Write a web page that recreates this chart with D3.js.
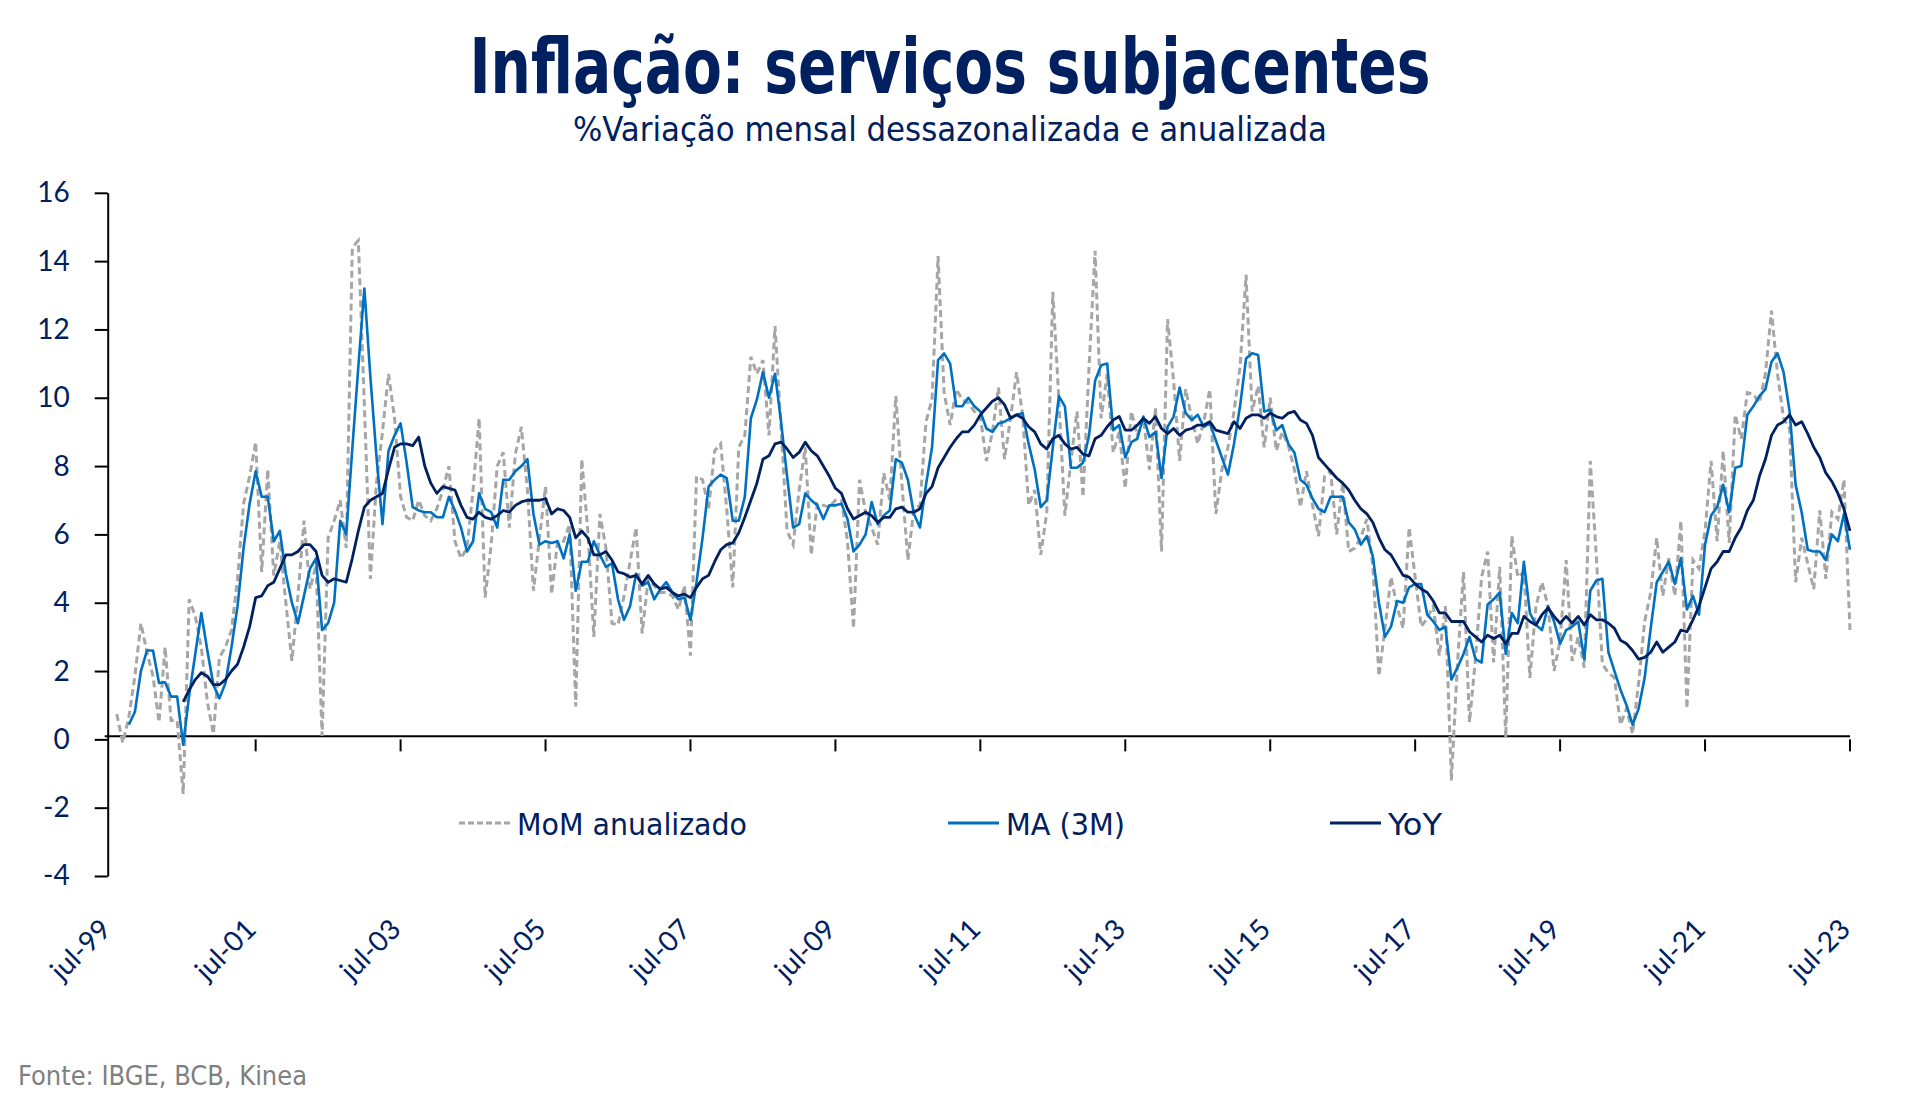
<!DOCTYPE html>
<html>
<head>
<meta charset="utf-8">
<script src="https://cdn.jsdelivr.net/npm/d3@7"></script>
<style>
  body { margin: 0; background: #fff; }
  svg { display: block; }
</style>
</head>
<body>
<svg id="chart" width="1913" height="1111"></svg>
<script>
// months on the axis: jul-99 .. jul-23 (289 categories)
var firstMonth = new Date(1999, 6, 1)
var lastMonth = new Date(2023, 6, 1)
var tickLabels = ["jul-99","jul-01","jul-03","jul-05","jul-07","jul-09","jul-11","jul-13","jul-15","jul-17","jul-19","jul-21","jul-23"]
var yTicks = [-4, -2, 0, 2, 4, 6, 8, 10, 12, 14, 16]

// MoM anualizado, starts ago-99
var momStart = new Date(1999, 7, 1)
var mom = [0.74,-0.1,0.65,1.85,3.4,2.55,1.85,0.5,2.7,0.55,0.55,-1.6,
  4.1,3.6,2.7,1.1,0.16,2.4,2.7,3.2,4.7,6.9,7.7,8.7,
  4.9,7.9,4.8,5.8,4.0,2.3,4.2,6.4,4.4,5.1,0.1,5.9,
  6.4,7.0,5.6,14.4,14.6,9.8,4.7,7.5,9.0,10.7,9.4,7.1,
  6.5,6.4,7.0,6.55,6.4,6.75,7.3,8.0,5.8,5.3,5.6,7.3,
  9.4,4.15,5.7,8.0,8.4,6.2,8.35,9.15,7.3,4.35,5.9,7.4,
  4.25,5.8,5.8,6.3,0.96,8.2,6.1,3.0,6.6,5.6,3.4,3.35,
  4.2,5.2,6.2,3.1,4.7,4.5,4.3,4.3,4.2,3.8,4.5,2.45,
  7.7,7.6,6.75,8.45,8.65,6.75,4.45,8.55,8.9,11.2,10.7,11.1,
  8.9,12.1,9.1,6.1,5.7,7.3,8.55,5.4,6.9,6.85,6.8,7.0,
  7.0,5.8,3.25,7.6,6.65,6.2,5.7,7.8,7.0,10.05,7.5,5.25,
  6.75,6.85,9.3,9.95,14.15,10.15,9.2,10.25,9.95,9.85,9.6,9.45,
  8.15,9.0,10.3,8.2,9.4,10.75,9.5,6.85,7.3,5.4,6.65,13.1,
  9.95,6.55,8.15,9.6,7.1,10.9,14.3,9.4,10.7,8.4,9.0,7.35,
  9.6,8.9,9.4,7.9,9.7,5.5,12.3,10.5,8.15,10.25,9.4,8.65,
  9.3,10.25,6.6,7.9,8.55,9.6,10.9,13.6,9.6,10.35,8.55,10.0,
  8.45,9.0,8.6,7.9,6.8,7.85,6.85,5.95,7.7,7.85,6.0,7.5,
  5.5,5.6,5.9,6.45,5.05,1.85,3.25,4.75,3.9,3.25,6.2,4.75,
  3.3,3.55,3.9,2.45,3.9,-1.2,2.2,4.9,0.5,2.4,4.75,5.5,
  2.25,5.05,0.05,5.95,4.75,4.9,1.8,3.9,4.6,3.9,2.0,2.9,
  5.25,2.3,3.0,2.1,8.15,5.35,2.2,1.95,1.8,0.43,0.9,0.16,
  1.65,3.45,4.3,5.9,4.2,5.3,4.2,6.4,0.9,5.25,5.0,6.1,
  8.15,5.8,8.45,5.75,9.5,8.8,10.15,10.1,9.85,10.7,12.55,10.7,
  9.4,9.1,4.6,5.9,5.15,4.4,6.7,4.7,6.65,6.45,7.6,3.2]

// MA (3M), starts out-99
var maStart = new Date(1999, 9, 1)
var ma3 = [0.43,0.8,2.0,2.6,2.6,1.65,1.67,1.25,1.25,-0.16,
  1.3,2.5,3.7,2.6,1.6,1.2,1.65,2.7,3.9,5.6,6.9,7.85,
  7.1,7.1,5.8,6.1,4.85,4.0,3.4,4.2,5.0,5.3,3.2,3.4,
  4.0,6.4,6.0,8.5,10.9,13.2,10.6,8.3,6.3,8.45,8.9,9.25,
  8.1,6.8,6.7,6.65,6.65,6.5,6.5,7.1,6.7,6.2,5.5,5.8,
  7.2,6.75,6.65,6.2,7.6,7.6,7.85,8.0,8.2,6.6,5.7,5.8,
  5.75,5.8,5.3,6.0,4.35,5.2,5.2,5.8,5.4,5.05,5.15,4.1,
  3.5,3.9,4.85,4.5,4.6,4.1,4.4,4.6,4.3,4.1,4.15,3.5,
  4.6,5.9,7.4,7.6,7.75,7.65,6.4,6.4,7.1,9.4,9.95,10.75,
  10.0,10.7,9.3,7.7,6.2,6.3,7.2,7.0,6.85,6.45,6.85,6.85,
  6.9,6.45,5.5,5.7,6.0,6.95,6.3,6.55,6.7,8.2,8.1,7.6,
  6.6,6.2,7.45,8.55,11.1,11.3,11.0,9.75,9.75,10.0,9.75,9.6,
  9.1,9.0,9.25,9.3,9.4,9.5,9.55,8.65,7.9,6.8,7.0,8.55,
  10.05,9.75,7.95,7.95,8.1,8.9,10.5,10.95,11.0,9.05,9.2,8.25,
  8.7,8.8,9.45,8.85,9.0,7.65,9.15,9.45,10.3,9.55,9.35,9.5,
  9.15,9.25,8.75,8.25,7.75,8.65,9.75,11.15,11.3,11.25,9.6,9.65,
  9.05,9.2,8.65,8.4,7.6,7.45,7.05,6.75,6.65,7.1,7.1,7.1,
  6.35,6.15,5.7,5.95,5.35,4.0,3.0,3.3,4.05,4.0,4.45,4.55,
  4.55,3.65,3.45,3.2,3.3,1.75,2.1,2.5,3.0,2.35,2.25,3.95,
  4.1,4.3,2.5,3.7,3.4,5.2,3.7,3.35,3.2,3.9,3.45,2.8,
  3.2,3.3,3.45,2.35,4.35,4.65,4.7,2.55,2.0,1.45,1.0,0.43,
  0.9,1.8,3.25,4.6,4.9,5.2,4.55,5.3,3.8,4.2,3.65,5.7,
  6.55,6.8,7.45,6.65,7.95,8.0,9.5,9.75,10.05,10.25,11.05,11.3,
  10.75,9.6,7.45,6.65,5.55,5.5,5.5,5.25,6.0,5.8,6.6,5.55]

// YoY, starts jul-00
var yoyStart = new Date(2000, 6, 1)
var yoy = [1.1,1.45,1.75,1.95,1.85,1.6,1.6,1.75,2.0,2.2,2.7,3.3,
  4.15,4.2,4.5,4.6,5.0,5.4,5.4,5.5,5.7,5.7,5.5,4.8,
  4.6,4.7,4.65,4.6,5.3,6.1,6.8,7.0,7.1,7.2,7.9,8.55,
  8.65,8.65,8.6,8.85,8.0,7.5,7.2,7.4,7.35,7.3,6.85,6.5,
  6.45,6.65,6.5,6.45,6.55,6.7,6.65,6.85,6.95,7.0,7.0,7.0,
  7.05,6.6,6.75,6.7,6.5,5.9,6.1,5.9,5.4,5.4,5.5,5.25,
  4.9,4.85,4.75,4.8,4.55,4.8,4.55,4.4,4.45,4.3,4.2,4.25,
  4.15,4.45,4.7,4.8,5.2,5.55,5.7,5.75,6.05,6.5,7.0,7.5,
  8.2,8.3,8.65,8.7,8.5,8.25,8.4,8.7,8.45,8.3,8.0,7.7,
  7.35,7.2,6.75,6.45,6.55,6.65,6.55,6.35,6.5,6.5,6.75,6.8,
  6.65,6.65,6.75,7.2,7.4,7.95,8.25,8.55,8.8,9.0,9.0,9.2,
  9.5,9.7,9.9,10.0,9.8,9.4,9.5,9.4,9.15,9.0,8.65,8.5,
  8.8,8.9,8.65,8.5,8.55,8.35,8.3,8.8,8.9,9.15,9.35,9.45,
  9.05,9.05,9.2,9.4,9.25,9.45,9.1,8.95,9.1,8.9,9.05,9.1,
  9.2,9.2,9.3,9.05,9.0,8.95,9.3,9.1,9.4,9.5,9.5,9.4,
  9.55,9.45,9.4,9.55,9.6,9.35,9.25,8.9,8.25,8.05,7.85,7.65,
  7.5,7.3,7.0,6.75,6.6,6.35,5.9,5.55,5.4,5.1,4.8,4.75,
  4.55,4.4,4.3,4.05,3.7,3.7,3.45,3.45,3.45,3.15,3.0,2.85,
  3.05,2.95,3.05,2.8,3.1,3.1,3.6,3.45,3.35,3.65,3.85,3.6,
  3.4,3.6,3.4,3.6,3.35,3.65,3.5,3.5,3.4,3.25,2.9,2.8,
  2.6,2.35,2.4,2.55,2.85,2.55,2.7,2.85,3.2,3.15,3.5,3.9,
  4.45,5.0,5.2,5.5,5.5,5.9,6.2,6.7,7.0,7.7,8.2,8.9,
  9.2,9.3,9.5,9.2,9.3,8.95,8.55,8.25,7.8,7.55,7.2,6.75,
  6.1]

var navy = "#002060"
var blue = "#0070c0"
var grey = "#a6a6a6"

var months = d3.timeMonth.range(firstMonth, d3.timeMonth.offset(lastMonth, 1))
var key = d3.timeFormat("%Y-%m")

// category axis: each month is one band, points sit in the middle of it
var x = d3.scaleBand()
  .domain(months.map(key))
  .range([107.7, 1853])
  .paddingInner(0)
var y = d3.scaleLinear()
  .domain([-4, 16])
  .range([876, 192.8])

var toPoints = function(values, start){
  return values.map(function(v, i){
    return { m: key(d3.timeMonth.offset(start, i)), v: v }
  })
}

var svg = d3.select("#chart")

// titles
svg.append("text")
  .attr("x", 950).attr("y", 93)
  .attr("text-anchor", "middle")
  .attr("font-family", "'Liberation Sans Narrow', 'DejaVu Sans Condensed', sans-serif")
  .attr("font-weight", "bold")
  .attr("font-size", 76)
  .attr("fill", navy)
  .attr("textLength", 961)
  .attr("lengthAdjust", "spacingAndGlyphs")
  .text("Inflação: serviços subjacentes")

svg.append("text")
  .attr("x", 950).attr("y", 141)
  .attr("text-anchor", "middle")
  .attr("font-family", "'Liberation Sans Narrow', 'DejaVu Sans Condensed', sans-serif")
  .attr("font-size", 34)
  .attr("fill", navy)
  .attr("textLength", 754)
  .attr("lengthAdjust", "spacingAndGlyphs")
  .text("%Variação mensal dessazonalizada e anualizada")

// y axis, plain hyphen for negatives like the original
var yAxis = d3.axisLeft(y).tickValues(yTicks).tickSize(13).tickSizeOuter(0).tickPadding(25)
  .tickFormat(function(d){ return String(d) })
var gy = svg.append("g")
  .attr("transform", "translate(107.7,0)")
  .call(yAxis)
gy.select(".domain").attr("stroke", "#000").attr("stroke-width", 2)
gy.selectAll(".tick line").attr("stroke", "#000").attr("stroke-width", 2)
gy.selectAll(".tick text")
  .attr("font-family", "Lato, 'Open Sans', sans-serif")
  .attr("font-size", 28)
  .attr("fill", navy)

// x axis on the zero line, ticks every two years
var tickMonths = tickLabels.map(function(d, i){ return key(d3.timeMonth.offset(firstMonth, i * 24)) })
var xAxis = d3.axisBottom(x).tickValues(tickMonths.slice(1)).tickSize(12).tickSizeOuter(0).tickFormat("").offset(-x.bandwidth() / 2)
var gx = svg.append("g")
  .attr("transform", "translate(0," + y(0) + ")")
  .call(xAxis)
gx.select(".domain").attr("stroke", "#000").attr("stroke-width", 2)
gx.selectAll(".tick line").attr("stroke", "#000").attr("stroke-width", 2)

// rotated labels at the bottom of the plot
svg.append("g").selectAll("text")
  .data(tickLabels)
  .enter()
  .append("text")
  .attr("transform", function(d, i){
    return "translate(" + (x(tickMonths[i]) + 5) + ",931) rotate(-45)"
  })
  .attr("text-anchor", "end")
  .attr("font-family", "Lato, 'Open Sans', sans-serif")
  .attr("font-size", 28)
  .attr("fill", navy)
  .text(function(d){ return d })

// series
var line = d3.line()
  .x(function(d){ return x(d.m) + x.bandwidth() / 2 })
  .y(function(d){ return y(d.v) })

svg.append("path")
  .datum(toPoints(mom, momStart))
  .attr("d", line)
  .attr("fill", "none")
  .attr("stroke", grey)
  .attr("stroke-width", 3)
  .attr("stroke-dasharray", "7,4")

svg.append("path")
  .datum(toPoints(ma3, maStart))
  .attr("d", line)
  .attr("fill", "none")
  .attr("stroke", blue)
  .attr("stroke-width", 2.6)
  .attr("stroke-linejoin", "round")

svg.append("path")
  .datum(toPoints(yoy, yoyStart))
  .attr("d", line)
  .attr("fill", "none")
  .attr("stroke", navy)
  .attr("stroke-width", 2.8)
  .attr("stroke-linejoin", "round")

// legend
var legendItems = [
  { name: "MoM anualizado", color: grey, dash: "6,3", x: 459, w: 230 },
  { name: "MA (3M)", color: blue, dash: null, x: 948, w: 119 },
  { name: "YoY", color: navy, dash: null, x: 1330, w: 54 }
]
var lg = svg.append("g").selectAll("g")
  .data(legendItems)
  .enter()
  .append("g")
  .attr("transform", function(d){ return "translate(" + d.x + ",823)" })
lg.append("line")
  .attr("x1", 0).attr("x2", 51)
  .attr("stroke", function(d){ return d.color })
  .attr("stroke-width", 3)
  .attr("stroke-dasharray", function(d){ return d.dash })
lg.append("text")
  .attr("x", 58).attr("y", 12)
  .attr("font-family", "'Liberation Sans Narrow', 'DejaVu Sans Condensed', sans-serif")
  .attr("font-size", 31)
  .attr("fill", navy)
  .attr("textLength", function(d){ return d.w })
  .attr("lengthAdjust", "spacingAndGlyphs")
  .text(function(d){ return d.name })

// source
svg.append("text")
  .attr("x", 18).attr("y", 1085)
  .attr("font-family", "'Liberation Sans Narrow', 'DejaVu Sans Condensed', sans-serif")
  .attr("font-size", 26)
  .attr("fill", "#7f7f7f")
  .attr("textLength", 289)
  .attr("lengthAdjust", "spacingAndGlyphs")
  .text("Fonte: IBGE, BCB, Kinea")
</script>
</body>
</html>
